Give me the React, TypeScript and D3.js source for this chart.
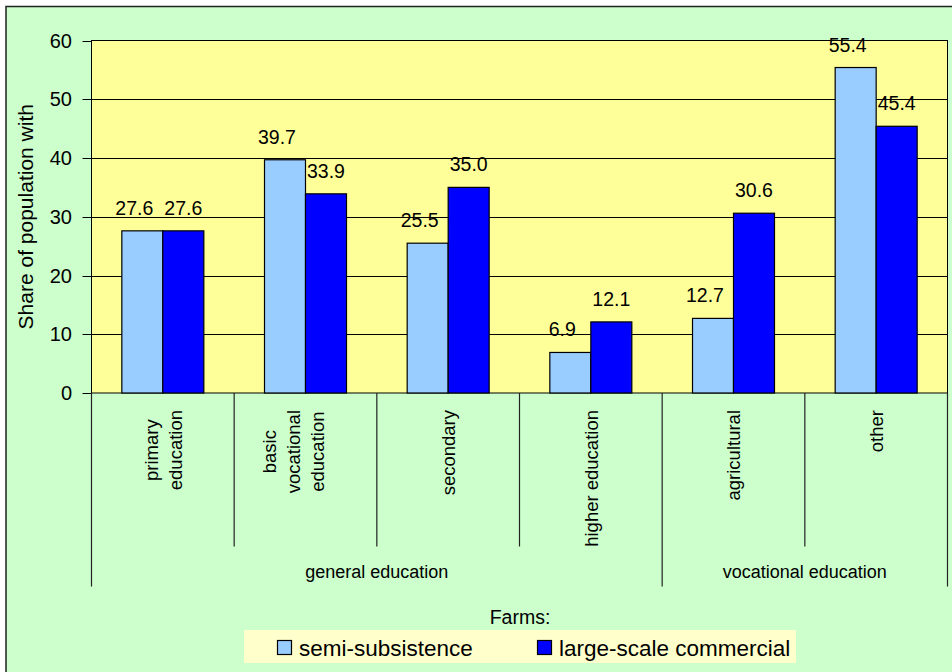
import React, { useRef, useEffect } from "react";
import * as d3 from "d3";

// chart data
const categories = [
  "primary\neducation",
  "basic\nvocational\neducation\n",
  "secondary",
  "higher education",
  "agricultural",
  "other",
];
const groupNames = ["general education", "vocational education"];
const groupSizes = [4, 2];
const seriesNames = ["semi-subsistence", "large-scale commercial"];
const semiSubsistence = [27.6, 39.7, 25.5, 6.9, 12.7, 55.4];
const largeScale = [27.6, 33.9, 35.0, 12.1, 30.6, 45.4];
const yTicks = [0, 10, 20, 30, 40, 50, 60];
const yLabel = "Share of population with";
const legendTitle = "Farms:";

const colors = ["#99CCFF", "#0000FF"];
const FONT = "'Liberation Sans', Arial, sans-serif";

const App: React.FC = () => {
  const svgRef = useRef<SVGSVGElement>(null);

  useEffect(() => {
    if (!svgRef.current) return;
    const width = 952;
    const height = 672;
    const margin = { top: 40.5, right: 4.5, bottom: 279, left: 91.5 };

    const svg = d3.select(svgRef.current);
    svg.selectAll("*").remove();
    svg.style("font-family", FONT);

    // outer background with frame
    svg
      .append("rect")
      .attr("x", 6)
      .attr("y", 6.5)
      .attr("width", width)
      .attr("height", height)
      .attr("fill", "#CCFFCC")
      .attr("stroke", "#222")
      .attr("stroke-width", 1.5);

    const x0 = d3
      .scaleBand<number>()
      .domain(d3.range(categories.length))
      .range([margin.left, width - margin.right])
      .padding(0);
    const x1 = d3
      .scaleBand<number>()
      .domain([0, 1])
      .range([0, x0.bandwidth()])
      .paddingInner(0)
      .paddingOuter(0.74);
    const y = d3
      .scaleLinear()
      .domain([0, 60])
      .range([height - margin.bottom, margin.top]);

    const plotW = width - margin.right - margin.left;
    const plotH = y(0) - y(60);

    // plot area
    svg
      .append("rect")
      .attr("x", margin.left)
      .attr("y", margin.top)
      .attr("width", plotW)
      .attr("height", plotH)
      .attr("fill", "#FFFF99")
      .attr("stroke", "#000")
      .attr("stroke-width", 1);

    // gridlines
    svg
      .append("g")
      .selectAll("line")
      .data(yTicks.filter((t) => t > 0 && t < 60))
      .join("line")
      .attr("x1", margin.left)
      .attr("x2", margin.left + plotW)
      .attr("y1", (d) => Math.round(y(d)) + 0.5)
      .attr("y2", (d) => Math.round(y(d)) + 0.5)
      .attr("stroke", "#000")
      .attr("stroke-width", 1);

    // y axis ticks + labels
    const yAxis = svg.append("g");
    yAxis
      .selectAll("line")
      .data(yTicks)
      .join("line")
      .attr("x1", margin.left - 9)
      .attr("x2", margin.left)
      .attr("y1", (d) => Math.round(y(d)) + 0.5)
      .attr("y2", (d) => Math.round(y(d)) + 0.5)
      .attr("stroke", "#000");
    yAxis
      .selectAll("text")
      .data(yTicks)
      .join("text")
      .attr("x", 72)
      .attr("y", (d) => y(d))
      .attr("dy", "0.36em")
      .attr("text-anchor", "end")
      .attr("font-size", 20)
      .attr("fill", "#000")
      .text((d) => d);

    svg
      .append("text")
      .attr("transform", `translate(33,${(y(0) + y(60)) / 2}) rotate(-90)`)
      .attr("text-anchor", "middle")
      .attr("font-size", 21)
      .attr("fill", "#000")
      .text(yLabel);

    // bars
    const series = [semiSubsistence, largeScale];
    const barG = svg.append("g");
    series.forEach((values, s) => {
      barG
        .append("g")
        .selectAll("rect")
        .data(values)
        .join("rect")
        .attr("x", (_d, i) => x0(i)! + x1(s)!)
        .attr("y", (d) => y(d))
        .attr("width", x1.bandwidth())
        .attr("height", (d) => y(0) - y(d))
        .attr("fill", colors[s])
        .attr("stroke", "#000")
        .attr("stroke-width", 1.2);
    });

    // value labels
    const fmt = d3.format(".1f");
    series.forEach((values, s) => {
      barG
        .append("g")
        .selectAll("text")
        .data(values)
        .join("text")
        .attr("x", (_d, i) => x0(i)! + x1(s)! + x1.bandwidth() / 2 + (s === 0 ? -8 : 0))
        .attr("y", (d) => y(d) - 16)
        .attr("text-anchor", "middle")
        .attr("font-size", 19.5)
        .attr("fill", "#000")
        .text((d) => fmt(d));
    });

    // category separators and group separators
    const sepG = svg.append("g").attr("stroke", "#222").attr("stroke-width", 1.2);
    let idx = 0;
    const groupBounds: number[] = [0];
    groupSizes.forEach((n) => {
      idx += n;
      groupBounds.push(idx);
    });
    d3.range(categories.length + 1).forEach((i) => {
      const xx = i < categories.length ? x0(i)! : x0.range()[1];
      const isGroup = groupBounds.includes(i);
      sepG
        .append("line")
        .attr("x1", xx)
        .attr("x2", xx)
        .attr("y1", y(0))
        .attr("y2", isGroup ? 586.5 : 546.5);
    });

    // category labels (rotated, lines centred on block)
    const blockTop = 410;
    const lineGap = 24;
    categories.forEach((cat, i) => {
      const lines = cat.split("\n");
      const cx = x0(i)! + x0.bandwidth() / 2;
      const g = svg.append("g");
      const texts = lines.map((line, j) =>
        g
          .append("text")
          .attr("text-anchor", "middle")
          .attr("font-size", 18.5)
          .attr("fill", "#000")
          .attr("dy", "0.36em")
          .text(line)
          .datum(cx + (j - (lines.length - 1) / 2) * lineGap)
      );
      const maxLen = d3.max(texts, (t) => (t.node() as SVGTextElement).getComputedTextLength()) || 0;
      texts.forEach((t) => {
        const lx = t.datum() as number;
        t.attr("transform", `translate(${lx},${blockTop + maxLen / 2}) rotate(-90)`);
      });
    });

    // group labels
    let start = 0;
    groupNames.forEach((name, gi) => {
      const end = start + groupSizes[gi];
      const xs = x0(start)!;
      const xe = end < categories.length ? x0(end)! : x0.range()[1];
      svg
        .append("text")
        .attr("x", (xs + xe) / 2)
        .attr("y", 571.5)
        .attr("dy", "0.36em")
        .attr("text-anchor", "middle")
        .attr("font-size", 18)
        .attr("fill", "#000")
        .text(name);
      start = end;
    });

    // legend
    svg
      .append("text")
      .attr("x", 520)
      .attr("y", 617)
      .attr("dy", "0.36em")
      .attr("text-anchor", "middle")
      .attr("font-size", 19.5)
      .attr("fill", "#000")
      .text(legendTitle);
    svg
      .append("rect")
      .attr("x", 244)
      .attr("y", 630)
      .attr("width", 552)
      .attr("height", 33)
      .attr("fill", "#FFFFCC");
    const legendX = [277.5, 537.5];
    seriesNames.forEach((name, s) => {
      svg
        .append("rect")
        .attr("x", legendX[s])
        .attr("y", 640.5)
        .attr("width", 14)
        .attr("height", 14)
        .attr("fill", colors[s])
        .attr("stroke", "#000")
        .attr("stroke-width", 1.2);
      svg
        .append("text")
        .attr("x", legendX[s] + 21.5)
        .attr("y", 648)
        .attr("dy", "0.36em")
        .attr("font-size", 22.5)
        .attr("fill", "#000")
        .text(name);
    });

    return () => {
      svg.selectAll("*").remove();
    };
  }, []);

  return (
    <svg
      ref={svgRef}
      width={952}
      height={672}
      style={{ position: "fixed", top: 0, left: 0, background: "#fff" }}
    ></svg>
  );
};

export default App;
